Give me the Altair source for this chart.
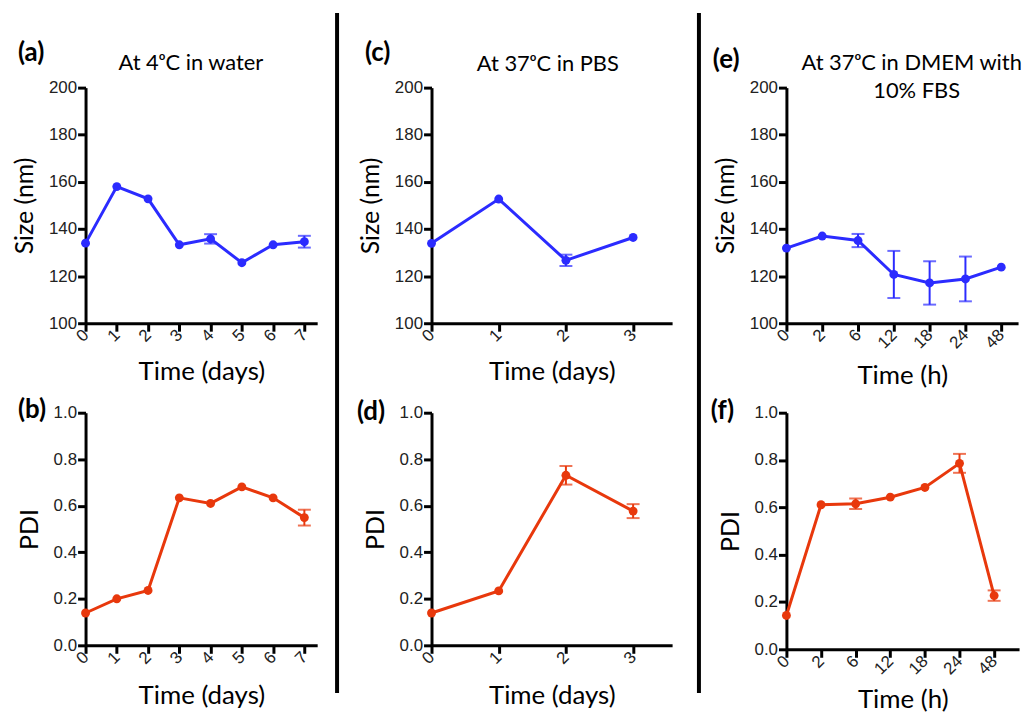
import altair as alt
import pandas as pd

# ---------------- data ----------------
days_a = [0, 1, 2, 3, 4, 5, 6, 7]
size_a = [134.0, 158.0, 152.8, 133.3, 135.8, 125.7, 133.3, 134.6]
size_a_err = [0, 0, 0, 0, 2.0, 0, 0, 2.5]
pdi_b = [0.139, 0.200, 0.236, 0.634, 0.610, 0.681, 0.634, 0.549]
pdi_b_err = [0, 0, 0, 0, 0, 0, 0, 0.034]

days_c = [0, 1, 2, 3]
size_c = [133.9, 152.7, 126.7, 136.4]
size_c_err = [0, 0, 2.4, 0]
pdi_d = [0.139, 0.234, 0.731, 0.577]
pdi_d_err = [0, 0, 0.040, 0.030]

hours_labels = ["0", "2", "6", "12", "18", "24", "48"]
size_e = [131.9, 137.0, 135.1, 120.7, 117.1, 118.8, 123.8]
size_e_err = [0, 0, 2.8, 10.0, 9.2, 9.5, 0]
pdi_f = [0.143, 0.611, 0.615, 0.643, 0.684, 0.786, 0.227]
pdi_f_err = [0, 0, 0.022, 0, 0, 0.040, 0.022]

BLUE = "#2b2bff"
RED = "#e8380c"
TITLE_FONT = "Lato"
LABEL_FONT = "Liberation Sans"

AXIS_STYLE = dict(
    domainColor="black", domainWidth=3, tickColor="black", tickWidth=3, tickSize=8,
    labelFont=LABEL_FONT, labelFontSize=17, labelColor="#222", grid=False,
    labelOverlap=False, titleFont=TITLE_FONT, titleFontWeight="normal",
    titleColor="black",
)


def make_df(x, y, err):
    df = pd.DataFrame({"x": x, "y": y, "err": err})
    df["lo"] = df["y"] - df["err"]
    df["hi"] = df["y"] + df["err"]
    return df


def text_layer(txt, x, y, size, weight="normal", align="center"):
    return alt.Chart(pd.DataFrame({"t": [txt]})).mark_text(
        font=TITLE_FONT, fontSize=size, fontWeight=weight, color="black",
        align=align, baseline="middle"
    ).encode(text="t:N", x=alt.value(x), y=alt.value(y))


def panel(df, color, xmax, xvals, xtitle, ytitle, ydomain, yvals, width, height,
          texts, xfmt="d", label_expr=None, yfmt="d", extra=None, xtitle_pad=14):
    xaxis_kwargs = dict(
        values=xvals, labelAngle=315, labelAlign="right", labelBaseline="middle",
        labelPadding=1, title=xtitle, titlePadding=xtitle_pad, format=xfmt,
        titleFontSize=26, **AXIS_STYLE,
    )
    if label_expr:
        xaxis_kwargs["labelExpr"] = label_expr
    xaxis = alt.Axis(**xaxis_kwargs)
    yaxis = alt.Axis(values=yvals, title=ytitle, titlePadding=11, labelPadding=1,
                     format=yfmt, titleFontSize=25, **AXIS_STYLE)
    xs = alt.Scale(domain=[0, xmax], nice=False, zero=False)
    ys = alt.Scale(domain=ydomain, nice=False, zero=False)

    def X():
        return alt.X("x:Q", scale=xs, axis=xaxis)

    def Y(field):
        return alt.Y(field + ":Q", scale=ys, axis=yaxis)

    base = alt.Chart(df)
    line = base.mark_line(color=color, strokeWidth=3).encode(x=X(), y=Y("y"))
    pts = base.mark_circle(color=color, size=80, opacity=1).encode(x=X(), y=Y("y"))
    edf = base.transform_filter("datum.err > 0")
    rule = edf.mark_rule(color=color, strokeWidth=2).encode(
        x=X(), y=Y("lo"), y2="hi:Q")
    cap_lo = edf.mark_tick(color=color, orient="horizontal", size=13, thickness=2).encode(
        x=X(), y=Y("lo"))
    cap_hi = edf.mark_tick(color=color, orient="horizontal", size=13, thickness=2).encode(
        x=X(), y=Y("hi"))
    layers = [line, rule, cap_lo, cap_hi, pts] + texts
    if extra is not None:
        layers += extra
    return alt.layer(*layers).properties(width=width, height=height)


size_vals = [100, 120, 140, 160, 180, 200]
pdi_vals = [0.0, 0.2, 0.4, 0.6, 0.8, 1.0]

hour_idx = list(range(len(hours_labels)))
hours_expr = "[" + ",".join("'" + h + "'" for h in hours_labels) + "][datum.value]"


def separator(dx):
    return alt.Chart(pd.DataFrame({"v": [0]})).mark_rule(
        color="black", strokeWidth=4).encode(
        x=alt.value(dx), y=alt.value(-75), y2=alt.value(609))


pa = panel(make_df(days_a, size_a, size_a_err), BLUE, 7.41, days_a, "Time (days)",
           "Size (nm)", [100, 200], size_vals, 233, 237,
           [text_layer("(a)", -68, -35, 26, "bold", "left"),
            text_layer("At 4ᵒC in water", 106, -25, 22)])
pb = panel(make_df(days_a, pdi_b, pdi_b_err), RED, 7.41, days_a, "Time (days)",
           "PDI", [0, 1], pdi_vals, 233, 234,
           [text_layer("(b)", -68, -3, 26, "bold", "left")], yfmt=".1f",
           xtitle_pad=16)
pc = panel(make_df(days_c, size_c, size_c_err), BLUE, 3.58, days_c, "Time (days)",
           "Size (nm)", [100, 200], size_vals, 242, 237,
           [text_layer("(c)", -67, -35, 26, "bold", "left"),
            text_layer("At 37ᵒC in PBS", 117, -24, 22)],
           extra=[separator(-95)])
pd_ = panel(make_df(days_c, pdi_d, pdi_d_err), RED, 3.58, days_c, "Time (days)",
            "PDI", [0, 1], pdi_vals, 242, 234,
            [text_layer("(d)", -75, -1, 26, "bold", "left")], yfmt=".1f",
            xtitle_pad=16)
pe = panel(make_df(hour_idx, size_e, size_e_err), BLUE, 6.47, hour_idx, "Time (h)",
           "Size (nm)", [100, 200], size_vals, 233, 237,
           [text_layer("(e)", -74, -28, 26, "bold", "left"),
            text_layer("At 37ᵒC in DMEM with", 126, -25, 22),
            text_layer("10% FBS", 131, 3, 22)],
           label_expr=hours_expr, extra=[separator(-88)], xtitle_pad=12)
pf = panel(make_df(hour_idx, pdi_f, pdi_f_err), RED, 6.72, hour_idx, "Time (h)",
           "PDI", [0, 1], pdi_vals, 234, 238,
           [text_layer("(f)", -76, -2, 26, "bold", "left")],
           label_expr=hours_expr, yfmt=".1f", xtitle_pad=10)

chart = alt.concat(pa, pc, pe, pb, pd_, pf, columns=3,
                   spacing={"row": 90, "column": 115}, bounds="flush").properties(
    padding={"left": 4, "top": 1, "right": 5, "bottom": 2},
    background="white",
).configure_axis(**AXIS_STYLE).configure_view(stroke=None)

chart.save("out.html", embed_options={"renderer": "svg", "actions": False})
